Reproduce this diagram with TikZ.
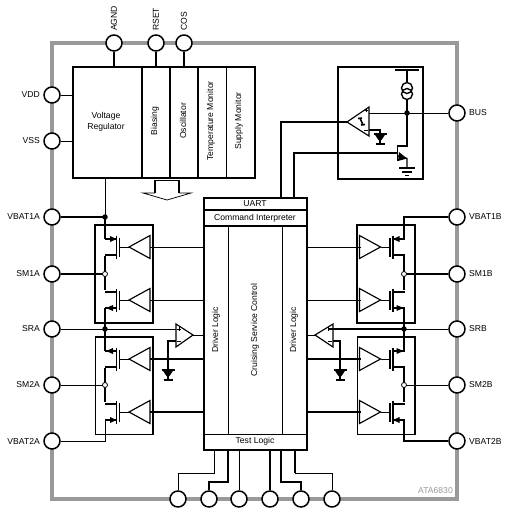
\documentclass[tikz,border=0pt]{standalone}
\usepackage{fontspec}
\setmainfont{Liberation Sans}
\tikzset{
  thin line/.style={line width=0.75pt},
  thick line/.style={line width=1.4pt},
  tri line/.style={line width=1.15pt,line join=miter},
  pin/.style={circle,draw,fill=white,line width=1.5pt,minimum size=16pt,inner sep=0pt},
  lab/.style={inner sep=0pt,font=\fontsize{8.6}{11}\selectfont},
  dot/.style={circle,fill=black,minimum size=5.5pt,inner sep=0pt},
  odot/.style={circle,draw,fill=white,line width=0.8pt,minimum size=5pt,inner sep=0pt},
  blk/.style={draw,line width=1.7pt},
}
\definecolor{pkg}{gray}{0.6}
\newcommand{\fet}[5]{%
  \begin{scope}[shift={(#1,#3)},xscale=#2]
    \draw[thick line] (11.5,-11.5)--(11.5,11.5);
    \draw[line width=1.1pt] (14.5,-9.5)--(14.5,9.5);
    \draw[thin line] (14.5,0)--(24,0);
    \draw[thick line] (0,-8)--(11.5,-8) (0,8)--(11.5,8);
    \ifnum#4=1
      \ifnum#5=1 \fill (11.5,-8)--(5,-11)--(5,-5)--cycle;\else \fill (1,-8)--(8,-11)--(8,-5)--cycle;\fi
    \else
      \ifnum#5=1 \fill (11.5,8)--(5,5)--(5,11)--cycle;\else \fill (1,8)--(8,5)--(8,11)--cycle;\fi
    \fi
    \draw[tri line] (24,0)--(45,-11.5)--(45,11.5)--cycle;
  \end{scope}}
\newcommand{\gnd}[2]{%
  \draw[line width=1.5pt] (#1-6.5,#2)--(#1+6.5,#2);
  \fill (#1-5.5,#2)--(#1+5.5,#2)--(#1+1.5,#2+6)--(#1-1.5,#2+6)--cycle;
  \draw[line width=1.5pt] (#1-4.5,#2+10)--(#1+4.5,#2+10);
  \draw[line width=1.2pt] (#1,#2+5)--(#1,#2+10);}
\begin{document}
\begin{tikzpicture}[x=1pt,y=-1pt]
\useasboundingbox (0,0) rectangle (512,515);
% package
\draw[pkg,line width=3.5pt] (52,43) rectangle (457,499);
% boxes
\draw[thick line] (95,225) rectangle (153,323);
\draw[thick line] (357,225) rectangle (415,323);
\draw[thin line] (95,337) rectangle (153,434);
\draw[thick line] (95,337)--(153,337)--(153,434);
\draw[thin line] (357,337) rectangle (415,434);
\draw[thick line] (357,337)--(415,337)--(415,434);
% top block
\node[blk,minimum width=182pt,minimum height=111pt,inner sep=0pt,anchor=north west] (top) at (72,66) {};
\draw[thick line] (142,66)--(142,177) (170,66)--(170,177) (198,66)--(198,177);
\draw[thin line] (226,66)--(226,177);
\node[lab,align=center] (vreg) at (106,121.5) {Voltage\\Regulator};
\node[lab,rotate=90] (bias) at (155,121) {Biasing};
\node[lab,rotate=90] (osc) at (183,121) {Oscillator};
\node[lab,rotate=90] (tmon) at (211,121) {Temperature Monitor};
\node[lab,rotate=90] (smon) at (239,121) {Supply Monitor};
% hollow arrow
\draw[thick line] (155,193)--(155,180.5)--(179,180.5)--(179,193);
\draw[thin line] (155,193)--(143,193)--(167,200)--(191,193)--(179,193);
% central block
\node[blk,minimum width=103pt,minimum height=252pt,inner sep=0pt,anchor=north west] (core) at (203,197) {};
\draw[line width=1.1pt] (203,210)--(306,210);
\draw[thick line] (203,226)--(306,226);
\draw[thin line] (203,434)--(306,434) (228,226)--(228,434) (282,226)--(282,434);
\node[lab] (uart) at (255,204) {UART};
\node[lab] (cmd) at (255,218) {Command Interpreter};
\node[lab] (test) at (255,441.5) {Test Logic};
\node[lab,rotate=90] (drv1) at (216,330) {Driver Logic};
\node[lab,rotate=90] (crs) at (255,330) {Cruising Service Control};
\node[lab,rotate=90] (drv2) at (294,330) {Driver Logic};
% bus box
\node[blk,minimum width=85pt,minimum height=112pt,inner sep=0pt,anchor=north west] (busbox) at (337,66) {};
% pins
\node[pin] (agnd) at (114,43) {};
\node[pin] (rset) at (156,43) {};
\node[pin] (cos) at (184,43) {};
\node[pin] (vdd) at (52,95) {};
\node[pin] (vss) at (52,141) {};
\node[pin] (va1) at (52,217) {};
\node[pin] (sm1a) at (52,274) {};
\node[pin] (sra) at (52,329) {};
\node[pin] (sm2a) at (52,385) {};
\node[pin] (va2) at (52,441) {};
\node[pin] (vb1) at (457,217) {};
\node[pin] (sm1b) at (457,274) {};
\node[pin] (srb) at (457,329) {};
\node[pin] (sm2b) at (457,385) {};
\node[pin] (vb2) at (457,441) {};
\node[pin] (bus) at (457,113) {};
\node[pin] (b1) at (178,499) {};
\node[pin] (b2) at (209,499) {};
\node[pin] (b3) at (239,499) {};
\node[pin] (b4) at (270,499) {};
\node[pin] (b5) at (301,499) {};
\node[pin] (b6) at (332,499) {};
% pin labels
\node[lab,rotate=90,anchor=west] at (114,31) {AGND};
\node[lab,rotate=90,anchor=west] at (156,31) {RSET};
\node[lab,rotate=90,anchor=west] at (184,31) {COS};
\foreach \n/\y in {VDD/95,VSS/141,VBAT1A/217,SM1A/274,SRA/329,SM2A/385,VBAT2A/441}
  \node[lab,anchor=east] at (40,\y) {\n};
\foreach \n/\y in {VBAT1B/217,SM1B/274,SRB/329,SM2B/385,VBAT2B/441,BUS/113}
  \node[lab,anchor=west] at (469,\y) {\n};
\node[lab,text=pkg,anchor=east] at (453,491) {ATA6830};
% top connections
\draw[thick line] (agnd) -- (114,66) (rset) -- (156,66) (cos) -- (184,66);
\draw[thin line] (vdd) -- (72,95) (vss) -- (72,141);
\draw[thin line] (105,177)--(105,217);
% rails
\draw[thick line] (va1) -- (105,217);
\draw[thick line] (105,217)--(105,239) (105,256)--(105,290) (105,308)--(105,329);
\draw[thick line] (105,329)--(105,351) (105,368)--(105,402);
\draw[line width=1pt] (va2) -- (105,441) -- (105,420);
\draw[thick line] (sm1a) -- (105,274);
\draw[thin line] (sm2a) -- (105,385);
\draw[thin line] (sra) -- (176,329);
\draw[thick line] (vb1) -- (404,217) -- (404,239);
\draw[thick line] (404,256)--(404,290) (404,308)--(404,351) (404,368)--(404,402);
\draw[line width=1.1pt] (vb2) -- (404,441) -- (404,420);
\draw[thick line] (sm1b) -- (404,274);
\draw[thin line] (sm2b) -- (404,385);
\draw[thin line] (srb) -- (404,329);
% drive lines
\draw[thin line] (150,247)--(203,247) (150,300)--(203,300) (306,247)--(361,247) (306,300)--(361,300);
\draw[thick line] (150,359)--(203,359) (150,412)--(203,412) (306,359)--(361,359) (306,412)--(361,412);
% FETs
\fet{105}{1}{247}{1}{1}
\fet{105}{1}{300}{-1}{-1}
\fet{105}{1}{359}{1}{-1}
\fet{105}{1}{412}{-1}{1}
\fet{404.5}{-1}{247}{1}{1}
\fet{404.5}{-1}{300}{-1}{-1}
\fet{404.5}{-1}{359}{1}{-1}
\fet{404.5}{-1}{412}{-1}{1}
\node[dot] (d1) at (105,217) {};
\node[dot] (d2) at (105,329) {};
\node[dot] (d3) at (404,329) {};
\node[odot] (o1) at (105,274) {};
\node[odot] (o2) at (105,385) {};
\node[odot] (o3) at (404,274) {};
\node[odot] (o4) at (404,385) {};
% SR comparators
\draw[thin line] (193,335)--(203,335) (306,335)--(315,335);
\draw[thick line] (176,341)--(168,341)--(168,370);
\gnd{168}{370}
\draw[thick line] (333,341)--(340,341)--(340,370);
\gnd{340}{370}
\draw[thick line] (329,329)--(404,329);
\draw[tri line] (176,324)--(193,335)--(176,347)--cycle;
\draw[tri line] (333,324)--(315,335)--(333,347)--cycle;
\draw[thin line] (177,329)--(181,329) (179,327)--(179,331) (177,341)--(181,341);
\draw[thin line] (328,327)--(328,331) (328,341)--(332,341);
% bus circuit
\draw[thick line] (395,70)--(419,70);
\draw[thick line] (407,70)--(407,82) (407,100)--(407,146)--(398,146);
\draw[thin line] (bus) -- (369,113);
\node[dot] (d4) at (407,113) {};
\draw[thick line] (407,88) circle (5.5);
\draw[thick line] (407,94) circle (5.5);
\draw[thick line] (397.5,145)--(397.5,161);
\draw[thick line] (398,156)--(407,158.5)--(407,168);
\fill (407,158.5)--(399,152)--(398,161)--cycle;
\draw[thick line] (399,168)--(415,168);
\draw[thick line] (402,172)--(412,172);
\draw[thick line] (405,175.5)--(409,175.5);
\draw[thick line] (369,130)--(380,130)--(380,134);
\gnd{380}{134}
\draw[tri line] (347,122)--(369,107)--(369,136)--cycle;
\draw[thin line] (365,110)--(368,110) (366.5,108.5)--(366.5,111.5) (364,130)--(368,130);
\draw[line width=1.6pt] (360,118)--(363,125) (358,118.5)--(362,118) (361,125)--(365,124.5);
\draw[thick line] (347,122)--(281,122)--(281,197);
\draw[thick line] (397,153)--(294,153)--(294,197);
% bottom connections
\draw[thin line] (214,449)--(214,473)--(178,473)--(b1);
\draw[thick line] (228,449)--(228,482)--(209,482)--(b2);
\draw[thin line] (239,449)--(b3);
\draw[thick line] (270,449)--(b4);
\draw[thick line] (281,449)--(281,482)--(301,482)--(b5);
\draw[thick line] (295,449)--(295,473);
\draw[thin line] (295,473)--(332,473)--(b6);
\end{tikzpicture}
\end{document}
